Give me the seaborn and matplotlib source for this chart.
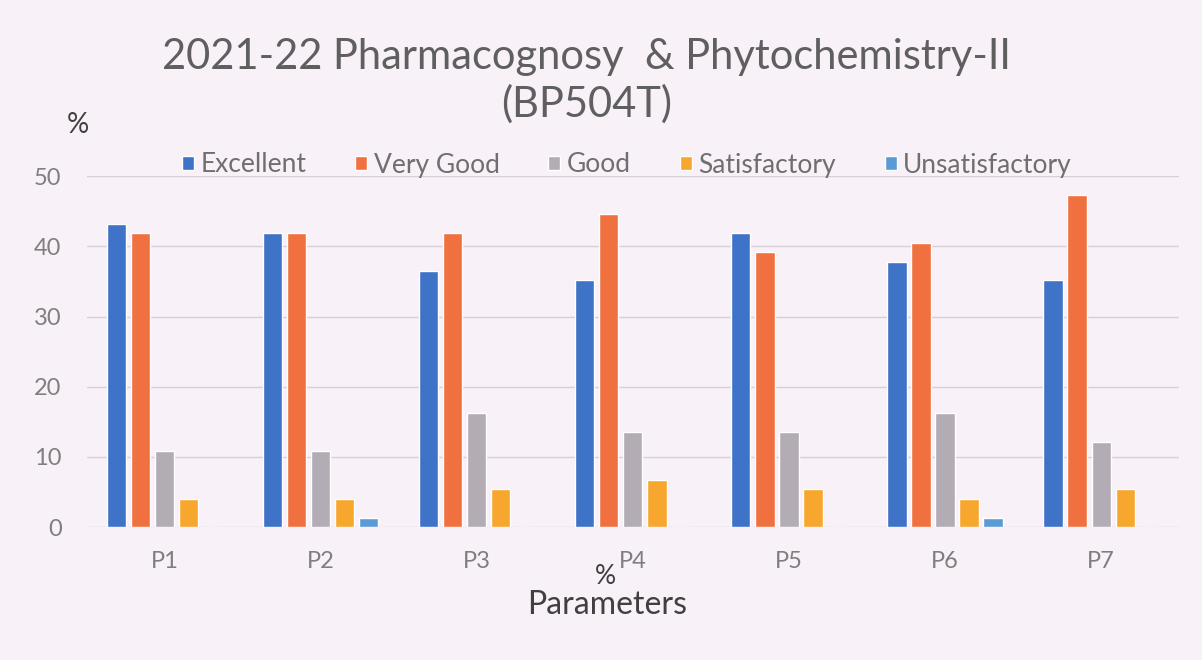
import pandas as pd
import matplotlib.pyplot as plt
import seaborn as sns

# dados (% de alunos por parâmetro)
parametros = ['P1', 'P2', 'P3', 'P4', 'P5', 'P6', 'P7']
excellent = [43.24, 41.89, 36.49, 35.14, 41.89, 37.84, 35.14]
very_good = [41.89, 41.89, 41.89, 44.59, 39.19, 40.54, 47.30]
good = [10.81, 10.81, 16.22, 13.51, 13.51, 16.22, 12.16]
satisfactory = [4.05, 4.05, 5.41, 6.76, 5.41, 4.05, 5.41]
unsatisfactory = [0, 1.35, 0, 0, 0, 1.35, 0]

categorias = ['Excellent', 'Very Good', 'Good', 'Satisfactory', 'Unsatisfactory']
cores = ['#3f73c8', '#f0703f', '#b3acb5', '#f7a72e', '#5b9bd5']

df = pd.DataFrame({
    'Parameter': parametros * 5,
    'Category': sum([[c] * len(parametros) for c in categorias], []),
    'Value': excellent + very_good + good + satisfactory + unsatisfactory,
})

bg = '#f8f1f8'
sns.set_theme(style="whitegrid")
plt.rcParams['font.family'] = ['Lato', 'DejaVu Sans']

fig = plt.figure(figsize=(12.02, 6.6), dpi=100, facecolor=bg)
ax = fig.add_axes([0.072, 0.2015, 0.909, 0.5315], facecolor=bg)

sns.barplot(data=df, x='Parameter', y='Value', hue='Category', hue_order=categorias,
            palette=cores, width=0.77, gap=0.2, ax=ax, saturation=1)

ax.set_ylim(0, 50)
ax.set_xlim(-0.5, 6.5)
ax.set_yticks([0, 10, 20, 30, 40, 50])
ax.grid(axis='y', color='#d6cfd6', linewidth=1)
ax.grid(axis='x', visible=False)
for s in ax.spines.values():
    s.set_visible(False)
ax.tick_params(axis='both', length=0, labelcolor='#7f7f7f')
ax.tick_params(axis='y', pad=18, labelsize=17)
ax.tick_params(axis='x', pad=17, labelsize=17)
ax.set_xlabel('')
ax.set_ylabel('')

# legenda em uma linha acima da área do gráfico
leg = ax.legend(loc='center', bbox_to_anchor=(0.5216, 0.75), bbox_transform=fig.transFigure,
                ncol=5, frameon=False, fontsize=19, handlelength=0.45, handleheight=0.45,
                columnspacing=1.85, handletextpad=0.25)
for t in leg.get_texts():
    t.set_color('#6f6f6f')

fig.text(0.488, 0.914, '2021-22 Pharmacognosy  & Phytochemistry-II', ha='center', va='center',
         fontsize=30, color='#5f5f5f')
fig.text(0.488, 0.842, '(BP504T)', ha='center', va='center', fontsize=30, color='#5f5f5f')
fig.text(0.065, 0.81, '%', ha='center', va='center', fontsize=20, color='#404040')
fig.text(0.504, 0.126, '%', ha='center', va='center', fontsize=19, color='#404040')
fig.text(0.505, 0.083, 'Parameters', ha='center', va='center', fontsize=23, color='#404040')

plt.savefig('out.png', dpi=100, facecolor=bg)
